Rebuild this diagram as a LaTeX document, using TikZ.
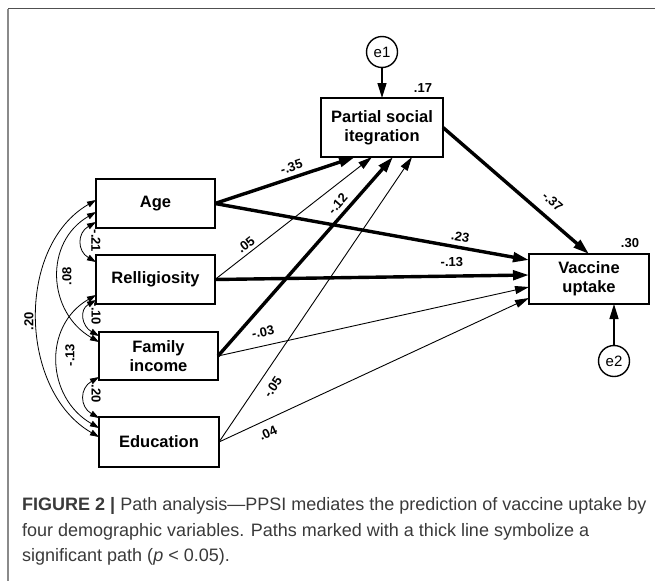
\documentclass[tikz,border=0pt]{standalone}
\usepackage{fontspec}
\setmainfont{Liberation Sans}
\usetikzlibrary{arrows.meta}
\definecolor{capgray}{HTML}{3A3A3A}
\definecolor{framedark}{HTML}{505050}
\definecolor{framelight}{HTML}{8A8A8A}
\tikzset{
  varbox/.style={draw, line width=1.8pt, inner sep=0pt, outer sep=0pt, align=center,
     font=\fontsize{16.5}{19}\selectfont\bfseries},
  errc/.style={draw, circle, line width=1.4pt, minimum size=31pt, inner sep=0pt, outer sep=0pt,
     font=\fontsize{15}{18}\selectfont},
  thickpath/.style={line width=3.4pt, -{Triangle[length=16pt,width=9.5pt]}},
  thinpath/.style={line width=0.9pt, -{Triangle[length=14pt,width=8pt]}},
  errpath/.style={line width=1.4pt, -{Triangle[length=15pt,width=9pt]}},
  covpath/.style={line width=0.8pt, {Triangle[length=9pt,width=6pt]}-{Triangle[length=9pt,width=6pt]}},
  coef/.style={font=\fontsize{13}{15}\selectfont\bfseries, inner sep=1.5pt},
  capline/.style={anchor=base west, inner sep=0pt, text=capgray, font=\fontsize{18}{22}\selectfont},
}
\begin{document}
\begin{tikzpicture}[x=1pt,y=1pt]
\useasboundingbox (0,0) rectangle (655,-581);
% frame
\draw[framedark, line width=1.6pt] (8,-8.5) -- (655,-8.5);
\draw[framelight, line width=1.2pt] (8,-8.5) -- (8,-581);

% boxes
\node[varbox, minimum width=119pt, minimum height=49pt] (age) at (155.5,-203.5) {Age};
\node[varbox, minimum width=119pt, minimum height=49pt] (rel) at (155.5,-279.5) {Relligiosity};
\node[varbox, minimum width=119pt, minimum height=48pt] (fam) at (158.5,-356) {Family\\income};
\node[varbox, minimum width=120pt, minimum height=50pt] (edu) at (159,-442) {Education};
\node[varbox, minimum width=122pt, minimum height=59pt] (psi) at (382,-127.5) {Partial social\\itegration};
\node[varbox, minimum width=120pt, minimum height=50pt] (vac) at (589,-279) {Vaccine\\uptake};
\node[errc] (e1) at (382,-52) {e1};
\node[errc] (e2) at (614,-361) {e2};
\node[coef] (r1) at (423,-88) {.17};
\node[coef] (r2) at (630,-243) {.30};

% error arrows
\draw[errpath] (e1) -- (psi.north);
\draw[errpath] (e2) -- ([xshift=25pt]vac.south);

% paths to PSI
\draw[thickpath] (age.east) -- ([xshift=-27pt]psi.south) node[coef, pos=0.57, sloped, above=3pt] (l1) {-.35};
\draw[thinpath] (rel.east) -- ([xshift=-10pt]psi.south) node[coef, pos=0.23, sloped, above=2pt] (l2) {.05};
\draw[thickpath] (fam.east) -- ([xshift=11pt]psi.south) node[coef, pos=0.73, sloped, above=3pt] (l3) {-.12};
\draw[thinpath] (edu.east) -- ([xshift=30pt]psi.south) node[coef, pos=0.22, sloped, below=7pt] (l4) {-.05};

% paths to vaccine
\draw[thickpath] (age.east) -- ([yshift=19pt]vac.west) node[coef, pos=0.775, sloped, above=3pt] (l5) {.23};
\draw[thickpath] (rel.east) -- ([yshift=4pt]vac.west) node[coef, pos=0.755, sloped, above=6pt] (l6) {-.13};
\draw[thinpath] (fam.east) -- ([yshift=-8pt]vac.west) node[coef, pos=0.154, sloped, above=7pt] (l7) {-.03};
\draw[thinpath] (edu.east) -- ([yshift=-19pt]vac.west) node[coef, pos=0.141, sloped, below=6pt] (l8) {.04};
\draw[thickpath] (psi.east) -- (vac.north) node[coef, pos=0.68, sloped, above=8pt] (l9) {-.37};

% covariances
\draw[covpath] ([yshift=3.5pt]age.west) to[out=210,in=150,looseness=1.0] ([yshift=5pt]edu.west);
\draw[covpath] ([yshift=-8.5pt]age.west) to[out=210,in=150,looseness=1.18] ([yshift=14pt]fam.west);
\draw[covpath] ([yshift=-15.5pt]rel.west) to[out=210,in=150,looseness=1.18] ([yshift=14pt]edu.west);
\draw[covpath] ([yshift=-18.5pt]age.west) to[out=210,in=150,looseness=1.4] ([yshift=17.5pt]rel.west);
\draw[covpath] ([yshift=-20.5pt]rel.west) to[out=210,in=150,looseness=1.4] ([yshift=20pt]fam.west);
\draw[covpath] ([yshift=-21pt]fam.west) to[out=210,in=150,looseness=1.4] ([yshift=24pt]edu.west);

\node[coef, rotate=-90] (c1) at (96,-241) {-.21};
\node[coef, rotate=90] (c2) at (67,-276) {.08};
\node[coef, rotate=90] (c3) at (29,-321) {.20};
\node[coef, rotate=90] (c4) at (70,-355) {-.13};
\node[coef, rotate=-90] (c5) at (96,-314) {-.10};
\node[coef, rotate=-90] (c6) at (96,-394) {.20};

% caption
\node[capline] (cap1) at (22,-510) {\textbf{FIGURE 2 |} Path analysis—PPSI mediates the prediction of vaccine uptake by};
\node[capline] (cap2) at (22,-536) {four demographic variables. Paths marked with a thick line symbolize a};
\node[capline] (cap3) at (22,-561) {significant path (\textit{p} < 0.05).};
\end{tikzpicture}
\end{document}
